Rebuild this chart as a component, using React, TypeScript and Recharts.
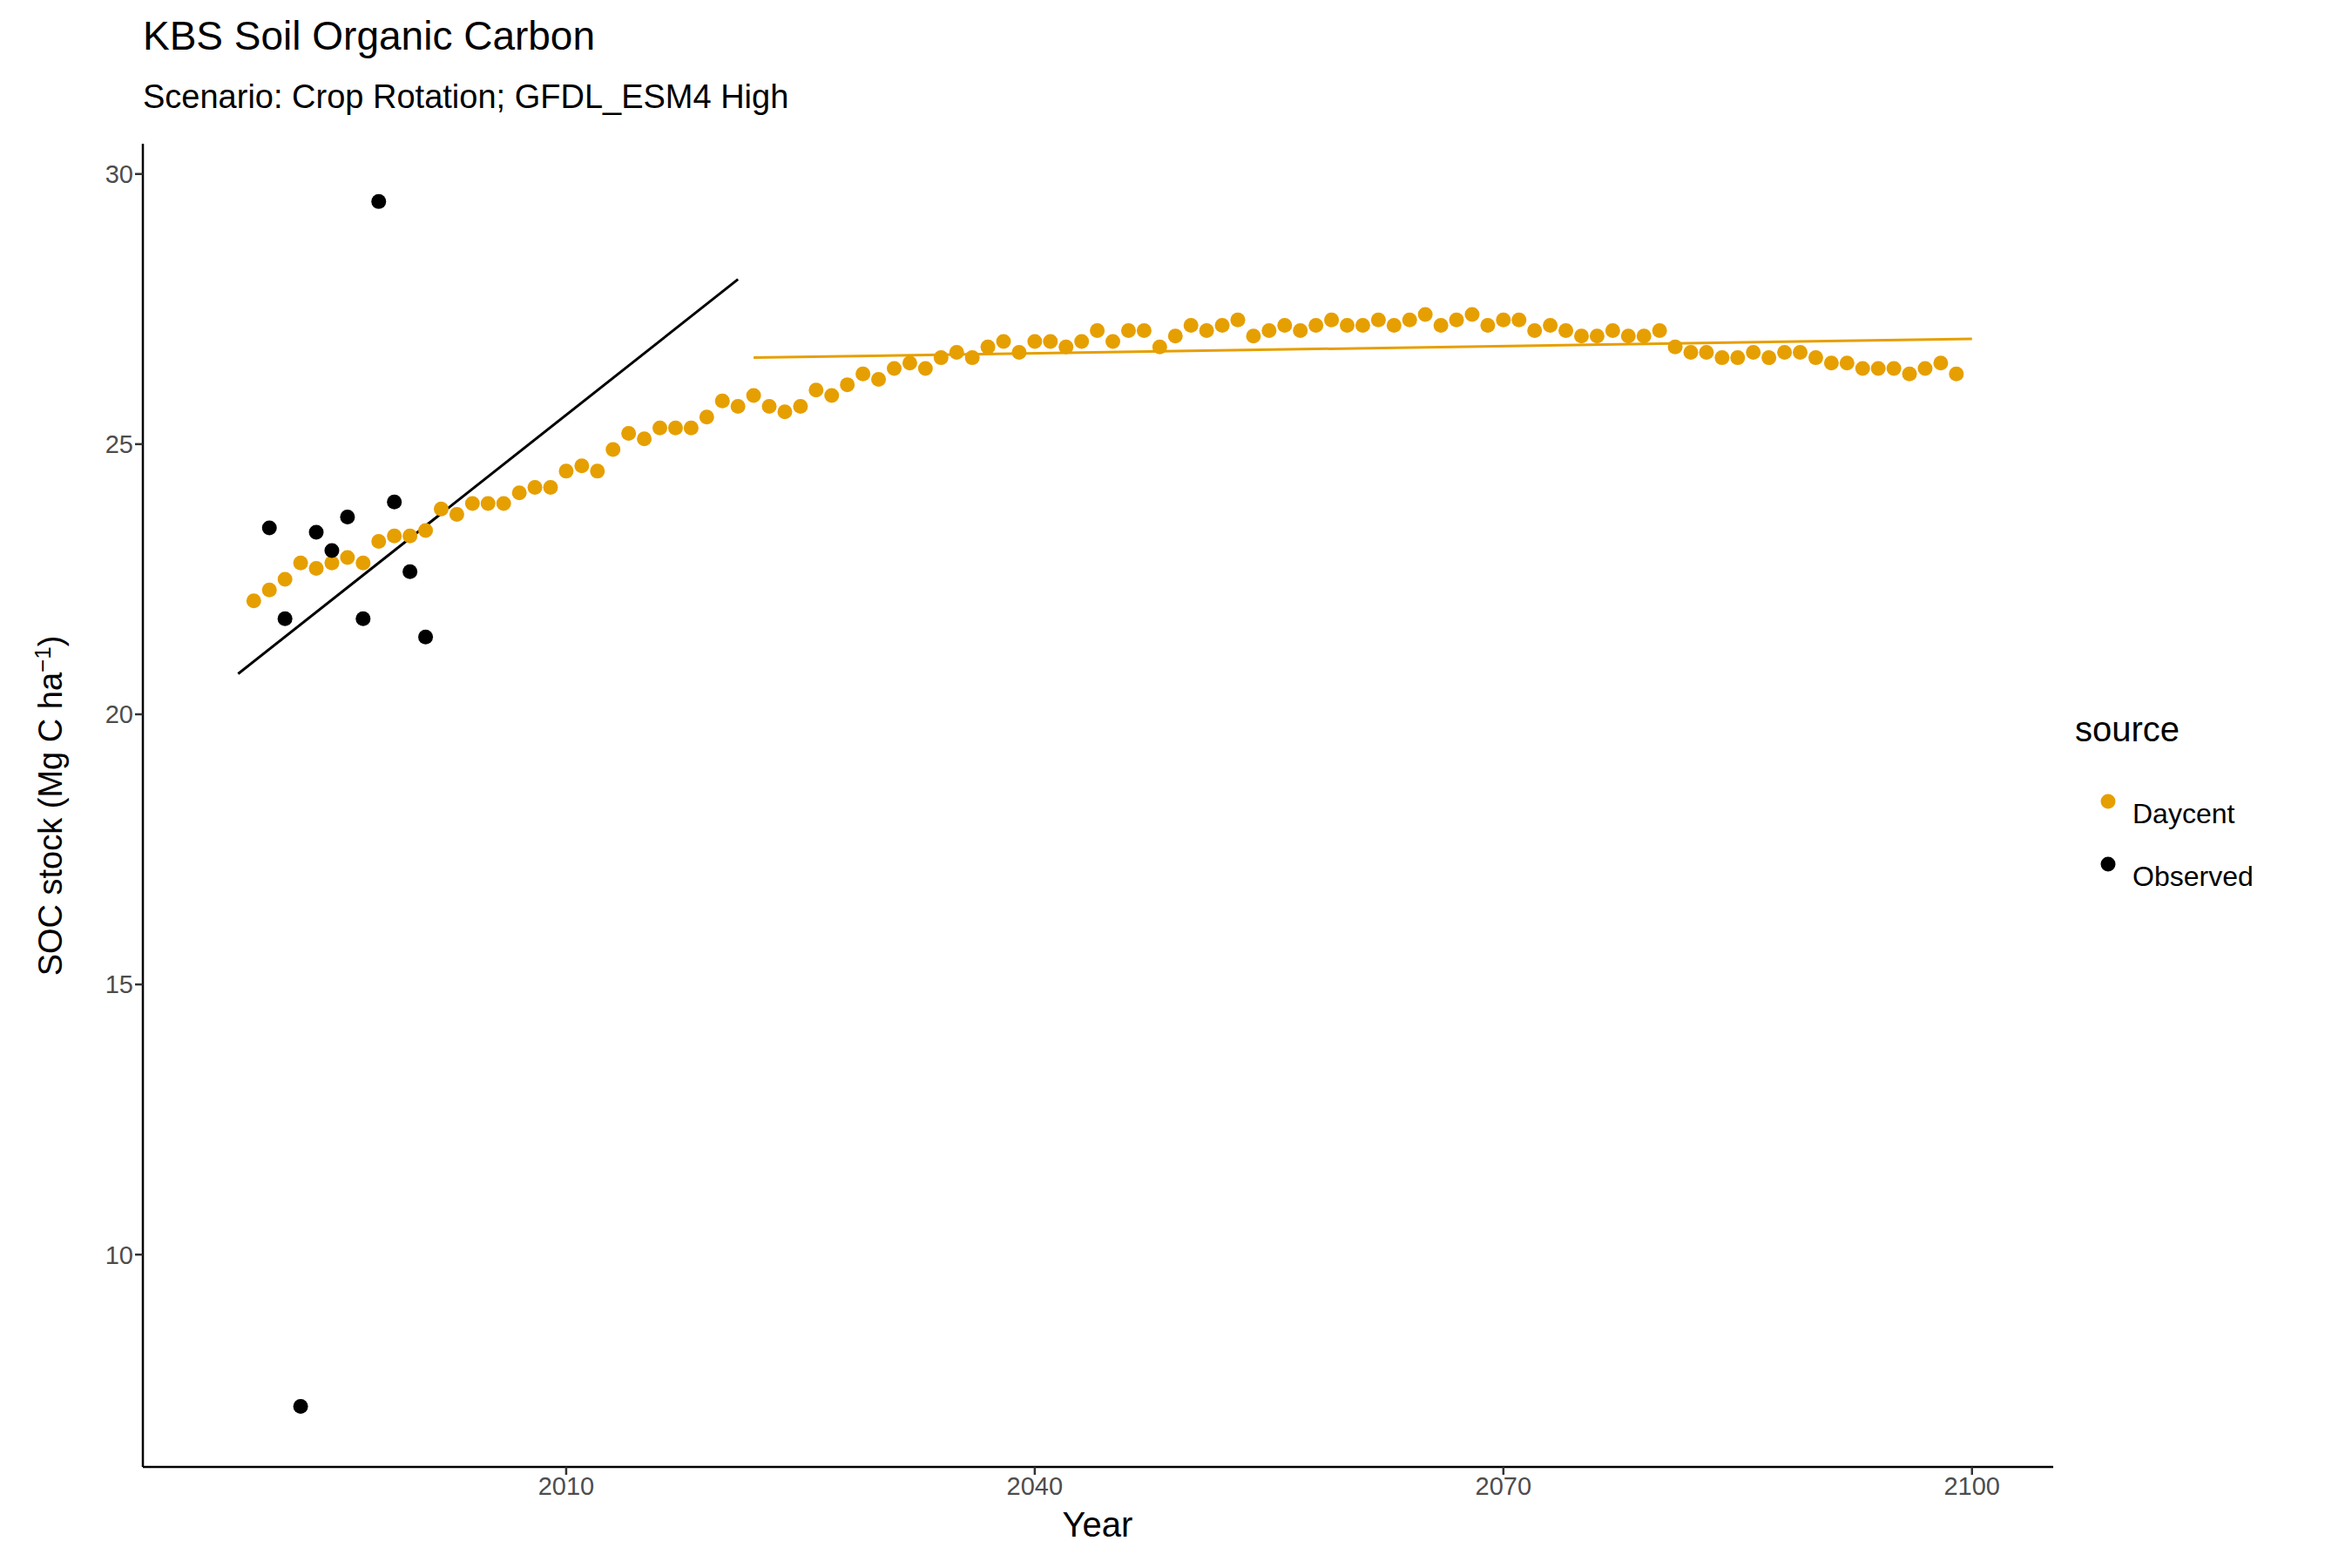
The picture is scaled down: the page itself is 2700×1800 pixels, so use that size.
import { ComposedChart, Scatter, Line, XAxis, YAxis } from "recharts"

const daycentStart = 1990
const daycentValues = [
  22.1, 22.3, 22.5, 22.8, 22.7, 22.8, 22.9, 22.8, 23.2, 23.3,
  23.3, 23.4, 23.8, 23.7, 23.9, 23.9, 23.9, 24.1, 24.2, 24.2,
  24.5, 24.6, 24.5, 24.9, 25.2, 25.1, 25.3, 25.3, 25.3, 25.5,
  25.8, 25.7, 25.9, 25.7, 25.6, 25.7, 26.0, 25.9, 26.1, 26.3,
  26.2, 26.4, 26.5, 26.4, 26.6, 26.7, 26.6, 26.8, 26.9, 26.7,
  26.9, 26.9, 26.8, 26.9, 27.1, 26.9, 27.1, 27.1, 26.8, 27.0,
  27.2, 27.1, 27.2, 27.3, 27.0, 27.1, 27.2, 27.1, 27.2, 27.3,
  27.2, 27.2, 27.3, 27.2, 27.3, 27.4, 27.2, 27.3, 27.4, 27.2,
  27.3, 27.3, 27.1, 27.2, 27.1, 27.0, 27.0, 27.1, 27.0, 27.0,
  27.1, 26.8, 26.7, 26.7, 26.6, 26.6, 26.7, 26.6, 26.7, 26.7,
  26.6, 26.5, 26.5, 26.4, 26.4, 26.4, 26.3, 26.4, 26.5, 26.3,
]
const observedYears = [1991, 1992, 1993, 1994, 1995, 1996, 1997, 1998, 1999, 2000, 2001]
const observedValues = [23.45, 21.77, 7.19, 23.37, 23.03, 23.65, 21.77, 29.49, 23.93, 22.64, 21.43]
const obsTrend = [
  { year: 1989, soc: 20.75 },
  { year: 2021, soc: 28.05 },
]
const dayTrend = [
  { year: 2022, soc: 26.6 },
  { year: 2100, soc: 26.95 },
]
const xTicks = [2010, 2040, 2070, 2100]
const yTicks = [10, 15, 20, 25, 30]

const daycent = daycentValues.map((soc, i) => ({ year: daycentStart + i, soc }))
const observed = observedYears.map((year, i) => ({ year, soc: observedValues[i] }))

const ORANGE = "#E69F00"
const font = "Arial, 'Liberation Sans', sans-serif"

const dot = (color: string) => (p: any) => <circle cx={p.cx} cy={p.cy} r={8.5} fill={color} />

export default function App() {
  return (
    <div style={{ position: "absolute", left: 0, top: 0, width: 2700, height: 1800, background: "#fff", fontFamily: font }}>
      <div style={{ position: "absolute", left: 164, top: 14, fontSize: 46, color: "#000" }}>KBS Soil Organic Carbon</div>
      <div style={{ position: "absolute", left: 164, top: 90, fontSize: 38, color: "#000" }}>Scenario: Crop Rotation; GFDL_ESM4 High</div>
      <ComposedChart width={2700} height={1800} margin={{ top: 165, right: 343, bottom: 56, left: 84 }}>
        <XAxis
          dataKey="year"
          type="number"
          domain={[1982.9, 2105.2]}
          ticks={xTicks}
          allowDataOverflow
          height={60}
          axisLine={{ stroke: "#000", strokeWidth: 2.5 }}
          tickLine={{ stroke: "#333", strokeWidth: 2.5 }}
          tickSize={9}
          tick={{ fontSize: 29, fill: "#4d4d4d", fontFamily: font }}
        />
        <YAxis
          dataKey="soc"
          type="number"
          domain={[6.07, 30.56]}
          ticks={yTicks}
          allowDataOverflow
          width={80}
          axisLine={{ stroke: "#000", strokeWidth: 2.5 }}
          tickLine={{ stroke: "#333", strokeWidth: 2.5 }}
          tickSize={9}
          tick={{ fontSize: 29, fill: "#4d4d4d", fontFamily: font }}
        />
        <Scatter data={daycent} dataKey="soc" fill={ORANGE} shape={dot(ORANGE)} isAnimationActive={false} />
        <Scatter data={observed} dataKey="soc" fill="#000" shape={dot("#000")} isAnimationActive={false} />
        <Line data={obsTrend} dataKey="soc" stroke="#000" strokeWidth={3} dot={false} isAnimationActive={false} />
        <Line data={dayTrend} dataKey="soc" stroke={ORANGE} strokeWidth={3} dot={false} isAnimationActive={false} />
      </ComposedChart>
      <div style={{ position: "absolute", left: 1260, top: 1728, width: 0, display: "flex", justifyContent: "center" }}>
        <span style={{ fontSize: 40, whiteSpace: "nowrap" }}>Year</span>
      </div>
      <div
        style={{
          position: "absolute",
          left: 57,
          top: 925,
          transform: "translate(-50%, -50%) rotate(-90deg)",
          fontSize: 38,
          whiteSpace: "nowrap",
        }}
      >
        SOC stock (Mg C ha<sup style={{ fontSize: 26 }}>−1</sup>)
      </div>
      <div style={{ position: "absolute", left: 2382, top: 815, fontSize: 40 }}>source</div>
      <div style={{ position: "absolute", left: 2448, top: 918, fontSize: 32, lineHeight: "1" }}>Daycent</div>
      <div style={{ position: "absolute", left: 2448, top: 990, fontSize: 32, lineHeight: "1" }}>Observed</div>
      <svg style={{ position: "absolute", left: 2400, top: 900 }} width={40} height={140}>
        <circle cx={20} cy={20} r={8.5} fill={ORANGE} />
        <circle cx={20} cy={92} r={8.5} fill="#000" />
      </svg>
    </div>
  )
}
